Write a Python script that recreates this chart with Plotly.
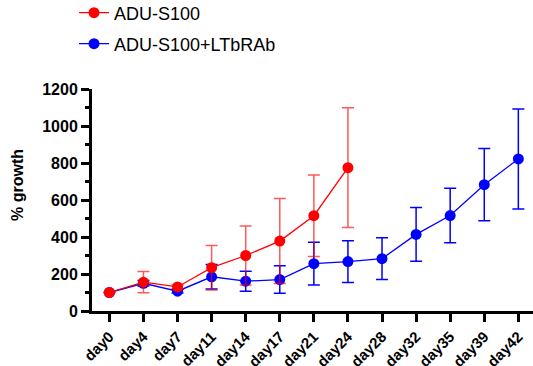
import plotly.graph_objects as go

days = ["day0", "day4", "day7", "day11", "day14", "day17", "day21",
        "day24", "day28", "day32", "day35", "day39", "day42"]

red_name = "ADU-S100"
red_vals = [100, 156, 130, 234, 300, 378, 515, 775]
red_err = [0, 58, 10, 120, 160, 230, 220, 324]

blue_name = "ADU-S100+LTbRAb"
blue_vals = [100, 150, 107, 185, 161, 170, 256, 267, 283, 414, 516, 683, 822]
blue_err = [0, 15, 10, 66, 54, 74, 115, 113, 113, 145, 147, 195, 270]

y_title = "% growth"

FONT = "Arial, Liberation Sans, sans-serif"
W, H = 533, 366

fig = go.Figure()
fig.add_trace(go.Scatter(
    x=days[:len(blue_vals)], y=blue_vals, name=blue_name, mode="lines+markers",
    line=dict(color="#0000FF", width=1.3),
    marker=dict(color="#0000FF", size=11),
    error_y=dict(type="data", array=blue_err, visible=True,
                 color="#0000FF", thickness=1.5, width=6),
    legend="legend2", showlegend=True,
))
fig.add_trace(go.Scatter(
    x=days[:len(red_vals)], y=red_vals, name=red_name, mode="lines+markers",
    line=dict(color="#FF0000", width=1.3),
    marker=dict(color="#FF0000", size=11),
    error_y=dict(type="data", array=red_err, visible=True,
                 color="rgba(255,0,0,0.65)", thickness=1.5, width=6),
    legend="legend", showlegend=True,
))

fig.update_layout(
    width=W, height=H, showlegend=True,
    margin=dict(l=92, r=0, t=89, b=55, autoexpand=False),
    paper_bgcolor="white", plot_bgcolor="white",
    font=dict(family=FONT, color="black"),
    legend=dict(xref="container", yref="container",
                x=74 / W, y=1 - 13 / H, xanchor="left", yanchor="middle",
                font=dict(size=18, family=FONT), bgcolor="rgba(0,0,0,0)"),
    legend2=dict(xref="container", yref="container",
                 x=74 / W, y=1 - 44 / H, xanchor="left", yanchor="middle",
                 font=dict(size=18, family=FONT), bgcolor="rgba(0,0,0,0)"),
    annotations=[dict(
        text=y_title, xref="paper", yref="paper",
        x=-(92 - 17) / (W - 92), y=(311 - 185) / (311 - 89),
        xanchor="center", yanchor="middle", textangle=-90, showarrow=False,
        font=dict(size=16, family=FONT, weight="bold", color="black"),
    )],
)

fig.update_xaxes(
    type="category", categoryorder="array", categoryarray=days,
    range=[-0.51, 12.43],
    showline=True, linecolor="black", linewidth=3,
    ticks="outside", ticklen=8, tickwidth=3, tickcolor="black",
    tickangle=-45, tickfont=dict(size=15, family=FONT, weight="bold"),
    showgrid=False, zeroline=False,
)
fig.update_yaxes(
    range=[0, 1200], dtick=200, tick0=0,
    showline=True, linecolor="black", linewidth=3,
    ticks="outside", ticklen=8, tickwidth=3, tickcolor="black",
    tickfont=dict(size=16, family=FONT, weight="bold"),
    minor=dict(dtick=100, ticks="outside", ticklen=4, tickwidth=3, tickcolor="black", showgrid=False),
    showgrid=False, zeroline=False,
)

fig.write_html("out.html", config={"displayModeBar": False},
               post_script="document.body.style.margin='0px';")
